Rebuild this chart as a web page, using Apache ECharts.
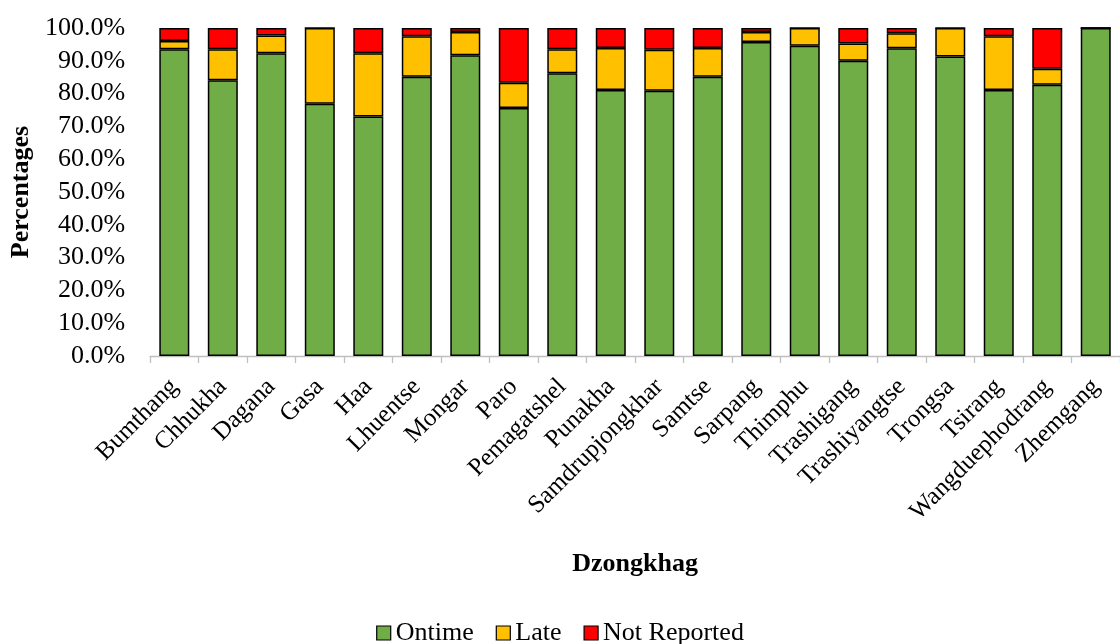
<!DOCTYPE html>
<html>
<head>
<meta charset="utf-8">
<script src="https://cdn.jsdelivr.net/npm/echarts@6/dist/echarts.min.js"></script>
<style>
  html, body { margin: 0; padding: 0; background: #fff; }
  #chart { width: 1120px; height: 644px; }
</style>
</head>
<body>
<div id="chart"></div>
<script>
// Reporting status by Dzongkhag (percent of reports)
const dzongkhags = ['Bumthang', 'Chhukha', 'Dagana', 'Gasa', 'Haa', 'Lhuentse', 'Mongar', 'Paro',
  'Pemagatshel', 'Punakha', 'Samdrupjongkhar', 'Samtse', 'Sarpang', 'Thimphu', 'Trashigang',
  'Trashiyangtse', 'Trongsa', 'Tsirang', 'Wangduephodrang', 'Zhemgang'];
const ontime = [93.5, 84.1, 92.3, 76.9, 73.0, 85.1, 91.7, 75.6, 86.2, 81.1,
  80.9, 85.1, 95.7, 94.6, 90.0, 93.8, 91.3, 81.1, 82.7, 100.0];
const late = [2.5, 9.4, 5.4, 23.1, 19.3, 12.4, 7.1, 7.7, 7.3, 12.8,
  12.5, 8.8, 3.1, 5.4, 5.3, 4.6, 8.7, 16.4, 4.9, 0.0];
const notReported = [4.0, 6.5, 2.3, 0.0, 7.7, 2.5, 1.2, 16.7, 6.5, 6.1,
  6.6, 6.1, 1.2, 0.0, 4.7, 1.6, 0.0, 2.5, 12.4, 0.0];
const yTicks = [0, 10, 20, 30, 40, 50, 60, 70, 80, 90, 100];

const FONT = '"Liberation Serif", "Times New Roman", serif';

const chart = echarts.init(document.getElementById('chart'), null, { renderer: 'canvas' });

function barSeries(name, data, color) {
  return {
    name: name,
    type: 'bar',
    stack: 'total',
    data: data,
    barWidth: 30,
    itemStyle: { color: color, borderColor: '#000', borderWidth: 1.5 },
    emphasis: { disabled: true }
  };
}

chart.setOption({
  animation: false,
  textStyle: { fontFamily: FONT },
  grid: { left: 147.6, right: -11.6, top: 28, bottom: 288, containLabel: false },
  legend: {
    top: 615,
    left: 'center',
    itemWidth: 14,
    itemHeight: 14,
    itemGap: 22,
    icon: 'rect',
    textStyle: { fontFamily: FONT, fontSize: 26, color: '#000' },
    itemStyle: { borderColor: '#000', borderWidth: 1.2 },
    data: ['Ontime', 'Late', 'Not Reported']
  },
  xAxis: {
    type: 'category',
    data: dzongkhags,
    name: 'Dzongkhag',
    nameLocation: 'middle',
    nameGap: 195,
    nameTextStyle: { fontFamily: FONT, fontSize: 26, fontWeight: 'bold', color: '#000', verticalAlign: 'top' },
    axisLine: { lineStyle: { color: '#bfbfbf', width: 1.3 } },
    axisTick: { show: true, length: 7, alignWithLabel: false, lineStyle: { color: '#bfbfbf', width: 1.3 } },
    axisLabel: { rotate: 45, margin: 27, interval: 0, fontFamily: FONT, fontSize: 25, color: '#000' }
  },
  yAxis: {
    type: 'value',
    min: yTicks[0],
    max: yTicks[yTicks.length - 1],
    interval: 10,
    name: 'Percentages',
    nameLocation: 'middle',
    nameGap: 110,
    nameRotate: 90,
    nameTextStyle: { fontFamily: FONT, fontSize: 26, fontWeight: 'bold', color: '#000' },
    axisLine: { show: false },
    axisTick: { show: false },
    splitLine: { show: false },
    axisLabel: {
      margin: 25,
      fontFamily: FONT,
      fontSize: 26,
      color: '#000',
      formatter: v => v.toFixed(1) + '%'
    }
  },
  series: [
    barSeries('Ontime', ontime, '#70AD47'),
    barSeries('Late', late, '#FFC000'),
    barSeries('Not Reported', notReported, '#FF0000')
  ]
});
</script>
</body>
</html>
